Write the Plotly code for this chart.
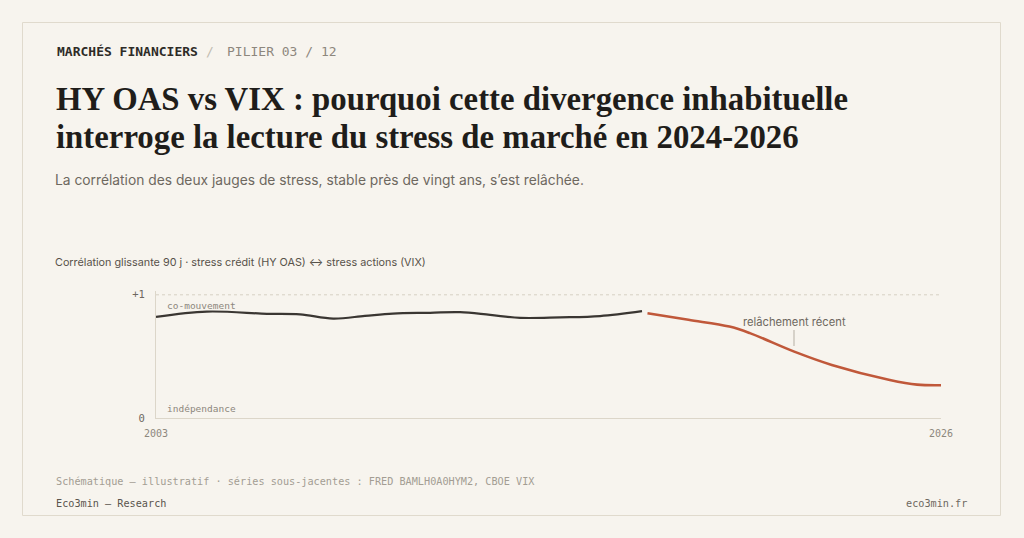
import plotly.graph_objects as go

# ---- data ----
years_hist = [2003.0, 2004.49, 2006.25, 2007.22, 2008.19, 2009.12, 2009.94, 2011.03,
              2011.91, 2012.79, 2013.67, 2014.84, 2016.01, 2017.24]
corr_hist = [0.821, 0.864, 0.846, 0.841, 0.807, 0.829, 0.848, 0.854,
             0.859, 0.837, 0.813, 0.817, 0.827, 0.867]
years_recent = [2017.4, 2018.6, 2019.8, 2020.4, 2021.7, 2022.8, 2024.5, 2025.3, 2026.0]
corr_recent = [0.851, 0.797, 0.742, 0.689, 0.539, 0.431, 0.309, 0.271, 0.266]
x_ticks = [2003, 2026]
y_ticks = [0, 1]
y_ticktext = ["0", "+1"]

W, H = 1024, 538
BG = "#f7f4ee"
MONO = "DejaVu Sans Mono"
SANS = "Inter"
SERIF = "Liberation Serif"


def px(x):
    return x / W


def py(y):
    return 1 - y / H


fig = go.Figure()
fig.add_trace(go.Scatter(x=years_hist, y=corr_hist, mode="lines",
                         line=dict(color="#3a3632", width=2.2, shape="spline", smoothing=1.0),
                         hoverinfo="skip", showlegend=False))
fig.add_trace(go.Scatter(x=years_recent, y=corr_recent, mode="lines",
                         line=dict(color="#c0583a", width=2.6, shape="spline", smoothing=1.0),
                         hoverinfo="skip", showlegend=False))

annotations = [
    dict(x=px(55), y=py(52), text="<b>MARCHÉS FINANCIERS</b>",
         font=dict(family=MONO, size=13, color="#2e2b27"), xanchor="left", yanchor="middle"),
    dict(x=px(210), y=py(52), text="/",
         font=dict(family=MONO, size=13, color="#c2bcb1"), xanchor="center", yanchor="middle"),
    dict(x=px(225), y=py(52), text="PILIER 03 / 12",
         font=dict(family=MONO, size=13, color="#8d877d"), xanchor="left", yanchor="middle"),
    dict(x=px(54), y=py(99), text="<b>HY OAS vs VIX : pourquoi cette divergence inhabituelle</b>",
         font=dict(family=SERIF, size=32.8, color="#1f1d1a"), xanchor="left", yanchor="middle"),
    dict(x=px(54), y=py(137), text="<b>interroge la lecture du stress de marché en 2024-2026</b>",
         font=dict(family=SERIF, size=32.8, color="#1f1d1a"), xanchor="left", yanchor="middle"),
    dict(x=px(53), y=py(180), text="La corrélation des deux jauges de stress, stable près de vingt ans, s’est relâchée.",
         font=dict(family=SANS, size=13.8, color="#6e685f"), xanchor="left", yanchor="middle"),
    dict(x=px(53), y=py(262), text="Corrélation glissante 90 j · stress crédit (HY OAS) ↔ stress actions (VIX)",
         font=dict(family=SANS, size=10.8, color="#57524a"), xanchor="left", yanchor="middle"),
    dict(x=px(165), y=py(305), text="co-mouvement",
         font=dict(family=MONO, size=9.5, color="#8d877d"), xanchor="left", yanchor="middle"),
    dict(x=px(165), y=py(408), text="indépendance",
         font=dict(family=MONO, size=9.5, color="#8d877d"), xanchor="left", yanchor="middle"),
    dict(x=px(794), y=py(322), text="relâchement récent",
         font=dict(family=SANS, size=11.2, color="#6e685f"), xanchor="center", yanchor="middle"),
    dict(x=px(54), y=py(481), text="Schématique — illustratif · séries sous-jacentes : FRED BAMLH0A0HYM2, CBOE VIX",
         font=dict(family=MONO, size=10.2, color="#a39d93"), xanchor="left", yanchor="middle"),
    dict(x=px(54), y=py(503), text="Eco3min — Research",
         font=dict(family=MONO, size=10.2, color="#5a554d"), xanchor="left", yanchor="middle"),
    dict(x=px(969), y=py(503), text="eco3min.fr",
         font=dict(family=MONO, size=10.2, color="#6e685f"), xanchor="right", yanchor="middle"),
]
for a in annotations:
    a.update(xref="paper", yref="paper", showarrow=False)

shapes = [
    dict(type="rect", xref="paper", yref="paper", x0=px(22.5), x1=px(1000.5), y0=py(22.5), y1=py(515.5),
         line=dict(color="#e0dacd", width=1), fillcolor="rgba(0,0,0,0)", layer="below"),
    dict(type="line", xref="x", yref="y", x0=2003, x1=2026, y0=1, y1=1,
         line=dict(color="#d6d0c3", width=1, dash="dot"), layer="below"),
    dict(type="line", xref="paper", yref="paper", x0=px(794), x1=px(794), y0=py(330), y1=py(346),
         line=dict(color="#b5afa4", width=1)),
]

fig.update_layout(
    width=W, height=H, autosize=False, margin=dict(l=0, r=0, t=0, b=0, pad=0),
    paper_bgcolor=BG, plot_bgcolor=BG,
    annotations=annotations, shapes=shapes,
    xaxis=dict(domain=[px(156), px(941)], range=[2003, 2026], showgrid=False, zeroline=False,
               showline=True, linecolor="#dcd6c9", linewidth=1, automargin=False,
               tickvals=x_ticks, ticktext=[str(v) for v in x_ticks], ticks="",
               ticklabelstandoff=6,
               tickfont=dict(family=MONO, size=10, color="#8d877d"), fixedrange=True),
    yaxis=dict(domain=[py(418), py(290.5)], range=[0, 1.035], showgrid=False, zeroline=False,
               showline=True, linecolor="#dcd6c9", linewidth=1, automargin=False,
               tickvals=y_ticks, ticktext=y_ticktext, ticks="",
               ticklabelstandoff=8,
               tickfont=dict(family=MONO, size=10.5, color="#6e685f"), fixedrange=True),
    hovermode=False,
)

fig.write_html("out.html", config={"displayModeBar": False, "responsive": False},
               default_width="1024px", default_height="538px",
               post_script="document.body.style.margin='0';document.body.style.padding='0';document.body.style.overflow='hidden';document.body.style.background='#f7f4ee';")
